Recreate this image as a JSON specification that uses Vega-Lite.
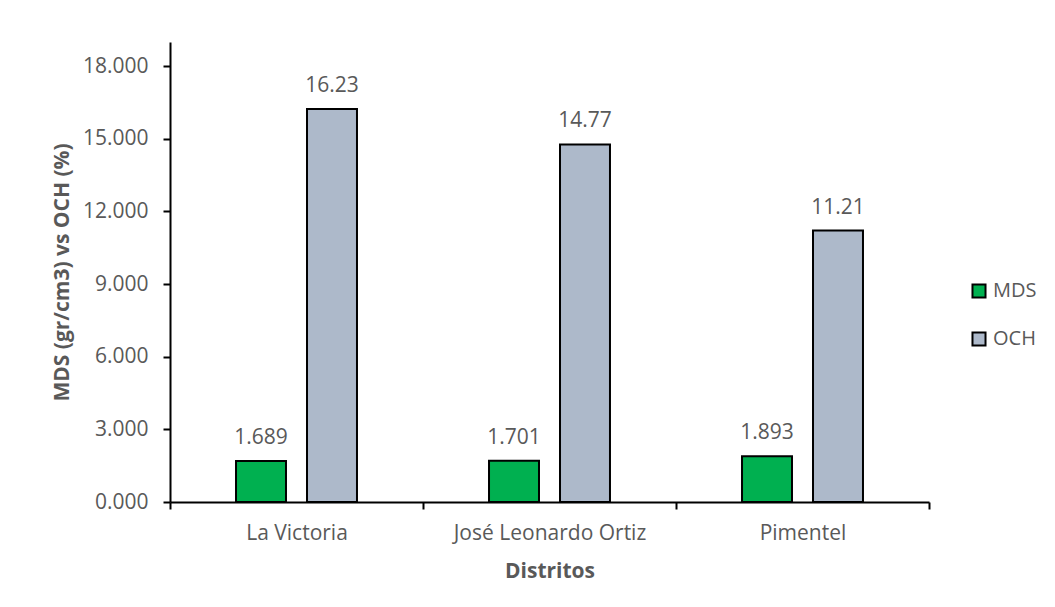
{
  "$schema": "https://vega.github.io/schema/vega-lite/v6.json",
  "width": 759,
  "height": 460,
  "autosize": {"type": "none"},
  "padding": {"left": 170, "top": 42, "right": 126, "bottom": 105},
  "background": "white",
  "config": {
    "font": "Open Sans",
    "view": {"stroke": null},
    "axis": {
      "domainColor": "black",
      "domainWidth": 2,
      "tickColor": "black",
      "tickWidth": 2,
      "tickSize": 7,
      "labelColor": "#595959",
      "labelFontSize": 21,
      "labelLimit": 0,
      "titleColor": "#595959",
      "titleFontSize": 21,
      "titleFontWeight": "bold",
      "grid": false
    }
  },
  "data": {
    "values": [
      {"distrito": "La Victoria", "serie": "MDS", "valor": 1.689},
      {"distrito": "La Victoria", "serie": "OCH", "valor": 16.23},
      {"distrito": "José Leonardo Ortiz", "serie": "MDS", "valor": 1.701},
      {"distrito": "José Leonardo Ortiz", "serie": "OCH", "valor": 14.77},
      {"distrito": "Pimentel", "serie": "MDS", "valor": 1.893},
      {"distrito": "Pimentel", "serie": "OCH", "valor": 11.21}
    ]
  },
  "encoding": {
    "x": {
      "field": "distrito",
      "type": "nominal",
      "sort": null,
      "scale": {"paddingInner": 0, "paddingOuter": 0},
      "axis": {
        "title": "Distritos",
        "labelAngle": 0,
        "tickBand": "extent",
        "labelPadding": 13,
        "titlePadding": 17
      }
    },
    "xOffset": {
      "field": "serie",
      "type": "nominal",
      "scale": {"paddingInner": 0.296, "paddingOuter": 0.93}
    },
    "y": {
      "field": "valor",
      "type": "quantitative",
      "scale": {"domain": [0, 19], "nice": false},
      "axis": {
        "title": "MDS (gr/cm3) vs OCH (%)",
        "values": [0, 3, 6, 9, 12, 15, 18],
        "format": ".3f",
        "labelPadding": 15,
        "titlePadding": 10
      }
    }
  },
  "layer": [
    {
      "mark": {"type": "bar", "stroke": "black", "strokeWidth": 2},
      "encoding": {
        "color": {
          "field": "serie",
          "type": "nominal",
          "scale": {"domain": ["MDS", "OCH"], "range": ["#00B050", "#ADB9CA"]},
          "legend": {
            "title": null,
            "orient": "none",
            "legendX": 799,
            "legendY": 239,
            "symbolType": "square",
            "symbolSize": 170,
            "symbolStrokeColor": "black",
            "symbolStrokeWidth": 2,
            "symbolOpacity": 1,
            "labelFontSize": 20,
            "labelColor": "#595959",
            "labelOffset": 4,
            "rowPadding": 26
          }
        }
      }
    },
    {
      "mark": {
        "type": "text",
        "baseline": "alphabetic",
        "dy": -17,
        "fontSize": 21,
        "color": "#595959"
      },
      "encoding": {
        "text": {"field": "valor", "type": "quantitative", "format": ".3~f"}
      }
    }
  ]
}
